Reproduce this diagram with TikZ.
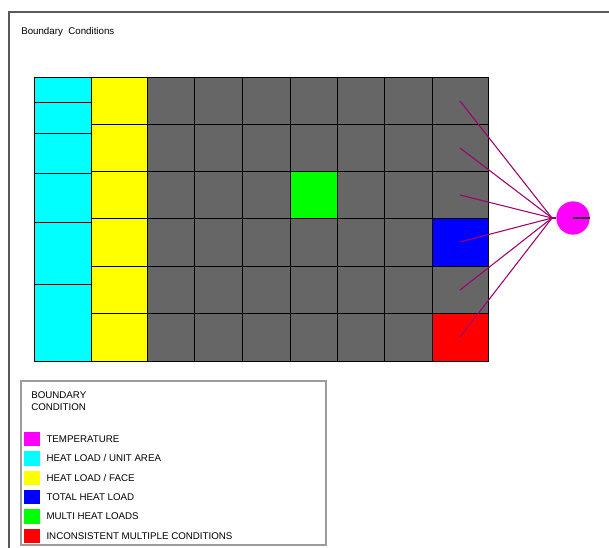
\documentclass[tikz,border=0pt]{standalone}
\usepackage{fontspec}
\setmainfont{Liberation Sans}
\usetikzlibrary{positioning}
\definecolor{meshgray}{RGB}{102,102,102}
\definecolor{linkpurple}{RGB}{160,0,110}
\definecolor{framegray}{RGB}{90,90,90}
\definecolor{bccyan}{RGB}{0,255,255}
\definecolor{bcyellow}{RGB}{255,255,0}
\definecolor{bcmagenta}{RGB}{255,0,255}
\definecolor{bcgreen}{RGB}{0,255,0}
\definecolor{bcblue}{RGB}{0,0,255}
\definecolor{bcred}{RGB}{255,0,0}
\tikzstyle{cell}=[draw=black, line width=0.6pt]
\tikzstyle{swatch}=[rectangle, minimum width=12pt, minimum height=11pt, inner sep=0pt]
\tikzstyle{legtext}=[font=\fontsize{7.3}{9}\selectfont, anchor=west, inner sep=0pt]
\tikzstyle{link}=[draw=linkpurple, line width=0.8pt]

\begin{document}
\begin{tikzpicture}[x=0.75pt, y=-0.75pt]
    \useasboundingbox (0,0) rectangle (609,548);

    % frame and title
    \draw[framegray, line width=0.8pt] (9,548) -- (9,12) -- (609,12);
    \node[legtext] (title) at (21,32) {Boundary\ \ Conditions};

    % heat load / unit area column (graded mesh)
    \foreach \ya/\yb in {77/102, 102/133, 133/173, 173/222, 222/284, 284/361}
        \filldraw[cell, fill=bccyan] (34,\ya) rectangle (91,\yb);

    % heat load / face column
    \foreach \ya/\yb in {77/124, 124/171, 171/218, 218/266, 266/313, 313/361}
        \filldraw[cell, fill=bcyellow] (91,\ya) rectangle (147,\yb);

    % plain cells
    \foreach \xa/\xb in {147/194, 194/242, 242/290, 290/337, 337/384, 384/432, 432/488}
        \foreach \ya/\yb in {77/124, 124/171, 171/218, 218/266, 266/313, 313/361}
            \filldraw[cell, fill=meshgray] (\xa,\ya) rectangle (\xb,\yb);

    \filldraw[cell, fill=bcgreen] (290,171) rectangle (337,218);
    \filldraw[cell, fill=bcblue] (432,218) rectangle (488,266);
    \filldraw[cell, fill=bcred] (432,313) rectangle (488,361);

    % temperature node
    \node[circle, fill=bcmagenta, minimum size=25pt, inner sep=0pt] (temp) at (573,218) {};
    \coordinate (hub) at (552,218);
    \draw[link] (hub) -- (temp.west);
    \draw[black!80, line width=0.8pt] (temp.center) -- (temp.east);

    \foreach \y/\name in {101/ta, 148/tb, 195/tc, 242/td, 290/te, 337/tf} {
        \coordinate (\name) at (460,\y);
        \draw[link] (hub) -- (\name);
    }

    % legend
    \draw[framegray!60, line width=0.8pt] (21,381) rectangle (326,545);
    \node[legtext, align=left] (legtitle) at (31,401) {BOUNDARY\\CONDITION};

    \foreach \y/\col/\name/\txt in {439/bcmagenta/temp/TEMPERATURE,
                                    458.5/bccyan/area/{HEAT LOAD / UNIT AREA},
                                    478/bcyellow/face/{HEAT LOAD / FACE},
                                    497/bcblue/total/TOTAL HEAT LOAD,
                                    516.5/bcgreen/multi/MULTI HEAT LOADS,
                                    536/bcred/incons/INCONSISTENT MULTIPLE CONDITIONS} {
        \node[swatch, fill=\col] (sw\name) at (32,\y) {};
        \node[legtext, right=4.5pt of sw\name] (lab\name) {\txt};
    }

\end{tikzpicture}
\end{document}
